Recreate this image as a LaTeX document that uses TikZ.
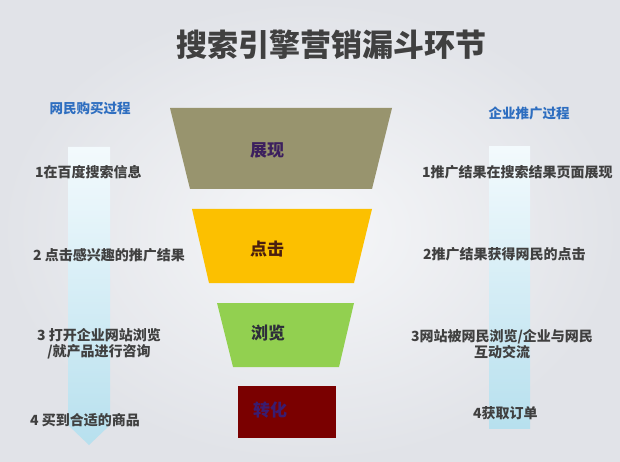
\documentclass[tikz,border=0pt]{standalone}
\usepackage{fontspec}
\setmainfont{Noto Sans CJK SC}

\definecolor{bgedge}{HTML}{E1E3E8}
\definecolor{bgmid}{HTML}{F6F7F9}
\definecolor{txt}{HTML}{404040}
\definecolor{headblue}{HTML}{2E6EC0}
\definecolor{bandtop}{HTML}{F3FAFD}
\definecolor{bandbot}{HTML}{B7E0EE}
\definecolor{olive}{HTML}{98946E}
\definecolor{amber}{HTML}{FCC000}
\definecolor{leaf}{HTML}{92D050}
\definecolor{maroon}{HTML}{7A0000}
\definecolor{lblA}{HTML}{3C1F5E}
\definecolor{lblB}{HTML}{4A1E10}
\definecolor{lblC}{HTML}{2E2E3A}
\definecolor{lblD}{HTML}{3A1C70}

\begin{document}
\begin{tikzpicture}[x=1pt,y=-1pt,
    item/.style={text=txt,font=\bfseries\fontsize{14}{16}\selectfont,inner sep=0pt},
    head/.style={text=headblue,font=\bfseries\fontsize{13.5}{16}\selectfont,inner sep=0pt},
    lbl/.style={font=\bfseries\fontsize{17}{20}\selectfont,inner sep=0pt}]
  \useasboundingbox (0,0) rectangle (620,462);
  \shade[inner color=bgmid,outer color=bgedge] (0,0) rectangle (620,462);

  % bands
  \shade[top color=bandtop,bottom color=bandbot] (68,147) -- (110,147) -- (110,425) -- (89,445) -- (68,425) -- cycle;
  \shade[top color=bandtop,bottom color=bandbot] (489,147) rectangle (530,428);

  % funnel
  \coordinate (A1) at (170,108);
  \coordinate (A2) at (392,108);
  \coordinate (A3) at (372,189);
  \coordinate (A4) at (190,189);
  \coordinate (B1) at (192,209);
  \coordinate (B2) at (372,209);
  \coordinate (B3) at (354,283);
  \coordinate (B4) at (209,283);
  \coordinate (C1) at (217,303);
  \coordinate (C2) at (354,303);
  \coordinate (C3) at (339,367);
  \coordinate (C4) at (233,367);
  \coordinate (D1) at (238,386);
  \coordinate (D3) at (336,438);
  \fill[olive] (A1) -- (A2) -- (A3) -- (A4) -- cycle;
  \fill[amber] (B1) -- (B2) -- (B3) -- (B4) -- cycle;
  \fill[leaf] (C1) -- (C2) -- (C3) -- (C4) -- cycle;
  \fill[maroon] (D1) rectangle (D3);
  \node[lbl,text=lblA] (SA) at (267,150) {展现};
  \node[lbl,text=lblB] (SB) at (267,249) {点击};
  \node[lbl,text=lblC] (SC) at (268,333) {浏览};
  \node[lbl,text=lblD] (SD) at (270,410) {转化};

  % title
  \node[text=txt,font=\bfseries\fontsize{31}{34}\selectfont,inner sep=0pt] (T) at (331,45) {搜索引擎营销漏斗环节};

  % left side
  \node[head] (HL) at (90,108) {网民购买过程};
  \node[item,anchor=west] (L1) at (35,172) {1在百度搜索信息};
  \node[item,anchor=west] (L2) at (33,255) {2 点击感兴趣的推广结果};
  \node[item,align=center] (L3) at (99,344) {3 打开企业网站浏览\\/就产品进行咨询};
  \node[item,anchor=west] (L4) at (30,420) {4 买到合适的商品};

  % right side
  \node[head] (HR) at (529,113) {企业推广过程};
  \node[item,anchor=west] (R1) at (422,172) {1推广结果在搜索结果页面展现};
  \node[item,anchor=west] (R2) at (423,254) {2推广结果获得网民的点击};
  \node[item,align=center] (R3) at (502,344) {3网站被网民浏览/企业与网民\\互动交流};
  \node[item,anchor=west] (R4) at (473,413) {4获取订单};
\end{tikzpicture}
\end{document}
